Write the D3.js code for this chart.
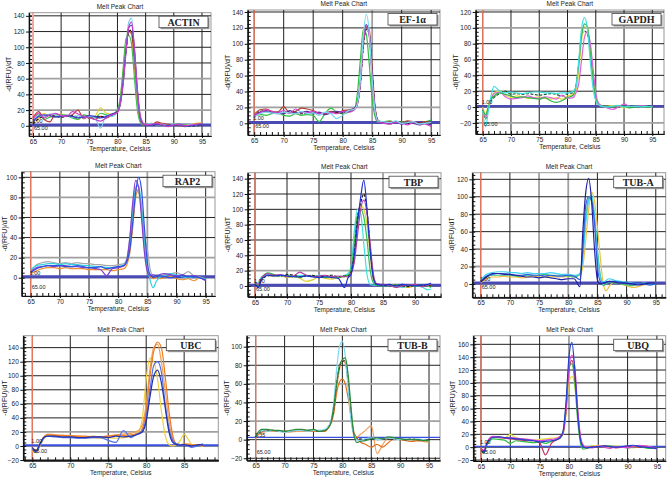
<!DOCTYPE html>
<html>
<head>
<meta charset="utf-8">
<script src="https://cdn.jsdelivr.net/npm/d3@7"></script>
<style>
  body { margin: 0; background: #fff; }
  text { font-family: "Liberation Sans", Arial, sans-serif; fill: #222; }
  .box-label { font-family: "Liberation Serif", "DejaVu Serif", serif; font-weight: bold; }
</style>
</head>
<body>
<div id="chart"></div>
<script>
(function () {
  "use strict";

  // ---- tick labels ----
  var ticks65to95 = [65, 70, 75, 80, 85, 90, 95];
  var ticks65to90 = [65, 70, 75, 80, 85, 90];
  var ticks65to85 = [65, 70, 75, 80, 85];
  var ticks0to140 = [0, 20, 40, 60, 80, 100, 120, 140];
  var ticks0to120 = [0, 20, 40, 60, 80, 100, 120];
  var ticks0to100 = [0, 20, 40, 60, 80, 100];
  var ticksM20to120 = [-20, 0, 20, 40, 60, 80, 100, 120];
  var ticksM20to140 = [-20, 0, 20, 40, 60, 80, 100, 120, 140];
  var ticksM20to100 = [-20, 0, 20, 40, 60, 80, 100];
  var ticksM20to160 = [-20, 0, 20, 40, 60, 80, 100, 120, 140, 160];

  // ---- ACTIN ----
  var actinTemps = [65,66,67,68,69,70,71,72,73,74,75,76,77,78,79,80, 80.5,81,81.5,82,82.5,83,83.5,84,84.5, 85,86,87,88,89,90,91,92,93,94,95];
  var actinYellow = [3,10,16,12,13,15,14,12,8,14,10,12,23,16,15,20, 34,70,108,122,115,78,32,8,2, 3,2,4,2,1,2,1,1,2,3,4];
  var actinGreen = [4,15,8,11,12,14,13,10,8,14,12,10,16,14,13,21, 36,72,110,115,104,62,22,5,1, 2,3,2,1,1,2,2,1,0,1,3];
  var actinRed = [10,18,8,5,15,13,12,14,20,9,12,8,12,10,14,19, 30,60,96,120,118,85,40,10,2, 3,1,5,3,2,1,0,0,1,2,1];
  var actinBlack = [2,9,12,14,12,11,12,13,11,12,10,11,12,11,13,18, 28,56,94,120,122,92,44,12,3, 1,2,1,1,0,1,1,-1,0,0,1];
  var actinCyan = [6,13,12,15,14,12,14,11,13,10,12,10,-3,13,12,18, 30,58,98,132,137,95,42,12,3, 2,3,1,2,0,2,1,0,2,1,2];
  var actinBlue = [5,12,14,13,11,12,13,12,10,11,13,12,10,12,15,18, 29,55,95,125,128,98,48,13,3, 1,1,2,1,0,1,1,0,0,1,2];
  var actinMagenta = [8,16,10,14,16,13,12,18,15,12,10,8,6,10,14,17, 28,52,92,126,132,100,50,15,4, 1,2,3,1,-1,1,2,0,1,2,3];

  // ---- EF-1a ----
  var efTemps = [65,66,67,68,69,70,71,72,73,74,75,76,77,78,79,80,81,82, 82.5,83,83.5,84,84.5,85,85.5,86, 87,88,89,90,91,92,93,94,95];
  var efGreen = [9,11,10,12,13,10,9,12,10,11,10,2,12,19,14,12,14,18, 38,80,118,112,75,30,8,1, 2,3,1,2,1,1,0,2,4];
  var efRed = [11,17,18,15,14,21,13,15,19,18,16,13,12,15,13,16,17,19, 26,52,102,120,118,70,20,4, 1,2,2,1,3,2,1,2,1];
  var efBlack = [7,15,16,14,12,13,15,14,12,13,14,12,13,14,14,13,15,18, 24,48,96,118,112,62,18,3, 1,-1,2,1,0,1,1,-1,0];
  var efPurple = [9,14,15,13,14,12,16,13,14,15,12,14,11,13,15,14,16,19, 26,54,104,124,112,60,17,2, 1,0,2,-1,1,0,-2,0,-2];
  var efMagenta = [10,13,17,15,13,16,12,18,14,13,15,12,13,14,12,15,14,17, 24,50,100,122,110,58,16,2, 0,-1,1,0,-2,1,0,-1,-4];
  var efCyan = [8,12,14,13,12,14,13,12,15,12,13,10,14,12,6,10,16,18, 25,55,110,137,115,55,15,3, 2,1,3,0,1,2,-1,0,1];

  // ---- GAPDH ----
  var gapdhTemps = [65,65.5,66,66.5,67,68,69,70,71,72,73,74,75,76,77,78,79,80,81, 81.5,82,82.5,83,83.5,84,84.5,85,85.5,86, 87,88,89,90,91,92,93,94,95];
  var gapdhDark = [-4,-15,-1,8,12,17,20,16,17,16,17,16,15,16,17,16,14,17,18, 26,55,92,96,92,75,40,12,3,1, 2,1,0,1,2,0,1,2,0];
  var gapdhYellow = [0,-8,2,12,18,20,15,12,14,13,11,12,13,11,10,12,10,14,16, 20,45,85,102,100,80,45,15,4,1, 1,2,1,-1,0,1,1,0,1];
  var gapdhMagenta = [-2,-12,-3,10,17,19,13,10,11,12,14,12,11,13,12,10,15,11,12, 18,30,60,88,95,82,50,18,5,2, -1,-3,0,4,1,0,2,1,0];
  var gapdhGreen = [-3,-10,0,10,14,18,16,14,12,13,12,11,10,12,8,6,8,12,15, 28,55,90,105,102,70,35,10,3,1, 1,0,2,1,-1,0,1,0,0];
  var gapdhCyan = [-5,-25,-5,15,26,20,18,19,18,17,18,19,19,18,18,17,18,18,20, 25,60,100,113,100,60,25,8,3,1, 0,1,2,0,1,1,0,1,0];

  // ---- RAP2 ----
  var rapTemps = [65,66,67,68,69,70,71,72,73,74,75,76,77,78,79,80,81, 81.5,82,82.5,83,83.5,84,84.5,85,85.5,86,86.5, 87,88,89,90,91,92,93,94,95];
  var rapGray = [7,13,15,16,15,14,15,14,15,14,14,13,13,12,12,13,14, 20,40,72,88,85,70,40,28,8,2,3, 2,3,4,5,3,6,2,1,-1];
  var rapOrange = [4,7,9,10,10,9,10,9,9,9,8,8,8,8,7,8,9, 13,25,50,80,88,65,30,8,1,-1,0, -1,0,1,-1,-2,-1,-3,0,-2];
  var rapCyan = [8,12,13,14,14,13,14,13,13,12,12,11,11,10,10,11,13, 18,35,65,90,92,70,35,10,-3,-10,-4, 0,2,4,3,1,0,1,0,-1];
  var rapPurple = [6,10,11,12,11,12,12,11,11,10,10,9,8,2,9,10,12, 18,40,75,97,90,60,25,6,2,3,2, 3,4,3,2,3,1,2,0,-3];
  var rapBlue = [5,9,11,12,12,12,11,11,12,11,10,10,11,9,10,11,12, 16,28,55,85,100,88,50,15,3,1,2, 2,1,0,1,2,1,1,0,-2];

  // ---- TBP ----
  var tbpTemps = [65,65.5,66,67,68,69,70,71,72,73,74,75,76,77,78,79, 79.5,80,80.5,81,81.5,82,82.5,83,83.5,84, 85,86,87,88,89,90,91,92,92.5];
  var tbpYellow = [4,1,11,14,12,14,11,12,10,6,8,12,10,9,11,12, 13,18,45,85,105,100,80,40,8,2, 1,2,1,-1,-2,1,0,1,0];
  var tbpCyan = [6,3,12,15,13,14,12,13,14,13,12,14,13,12,11,14, 16,25,70,100,95,55,15,2,1,1, 1,0,0,-2,1,0,-1,-5,-4];
  var tbpGreen = [4,0,9,17,15,13,14,12,11,14,13,12,11,12,11,13, 14,22,55,92,100,90,60,20,4,1, 0,1,1,2,1,0,1,0,-2];
  var tbpBlack = [2,0,8,13,14,13,15,14,12,13,14,12,13,14,12,13, 13,18,42,88,108,120,98,50,12,2, 1,0,1,0,-1,1,0,1,0];
  var tbpPurple = [5,2,10,16,14,15,12,13,18,14,12,13,14,12,13,12, 12,16,30,65,100,112,95,55,15,3, 2,1,-2,0,1,2,-1,1,3];
  var tbpBlue = [3,-2,8,14,13,14,13,12,12,13,12,11,12,11,10,-2, 10,15,40,80,115,138,100,45,10,2, 1,2,0,2,1,0,1,2,4];

  // ---- TUB-A ----
  var tubaTemps = [65,66,67,68,69,70,71,72,73,74,75,76,77,78,79,80,81,82, 82.5,83,83.5,84,84.5,85,85.5,86,86.5,87, 88,89,90,91,92,93,94,95];
  var tubaYellow = [1,6,8,8,9,8,8,7,8,9,8,8,9,8,8,9,8,10, 20,50,85,105,95,65,30,0,-8,-3, 2,0,-2,-4,-3,-1,0,1];
  var tubaGreen = [3,8,10,10,10,10,9,9,10,10,10,11,10,10,10,9,8,12, 35,75,98,100,75,40,10,-2,0,2, 1,0,-1,-2,0,1,-1,0];
  var tubaCyan = [5,11,13,14,14,13,13,12,13,12,12,12,13,12,11,11,10,11, 30,70,95,102,80,35,8,2,4,6, 4,3,2,1,0,1,0,0];
  var tubaBlue = [3,9,11,12,12,11,10,10,11,10,10,9,10,9,9,10,9,5, 40,90,100,95,70,20,3,1,2,3, 3,2,1,0,1,0,-1,0];
  var tubaDark = [2,8,12,12,11,11,10,9,8,8,7,8,7,6,5,6,6,-3, 60,105,121,95,40,5,0,1,2,3, 2,1,1,0,-1,0,1,1];

  // ---- UBC ----
  var ubcTemps = [65,65.5,66,66.5,67,68,69,70,71,72,73,74,75,76,77,78, 78.5,79,79.5,80,80.5,81,81.5,82,82.5,83,83.5,84, 84.5,85,85.5,86,87,87.5];
  var ubcYellow = [-8,-10,0,10,15,14,14,13,13,12,12,11,12,11,12,14, 16,20,40,95,125,120,95,50,15,2,0,2, 8,17,10,2,1,-1];
  var ubcOrange2 = [-3,-6,4,13,17,16,15,15,14,13,14,13,14,16,17,18, 20,22,30,60,110,140,145,120,80,35,10,2, 1,2,3,2,1,2];
  var ubcOrange = [-5,-8,2,12,16,15,15,14,14,14,13,13,14,15,15,16, 17,18,25,50,100,135,148,140,100,50,15,3, 2,3,2,1,2,0];
  var ubcBlue = [-4,-9,1,11,14,13,12,12,11,11,12,12,8,5,22,12, 15,18,22,40,80,115,120,105,60,25,8,3, 2,1,0,-2,1,3];
  var ubcDark = [-2,-7,3,12,14,14,13,13,12,12,13,13,12,14,13,14, 15,17,20,35,70,100,108,90,55,20,5,2, 1,2,1,0,2,1];

  // ---- TUB-B ----
  var tubbTemps = [65,66,67,68,69,70,71,72,73,74,75,76,77, 77.5,78,78.5,79,79.5,80,80.5,81,81.5,82,82.5,83, 84,85,86,87,88,89,90,91,92,93,94,95];
  var tubbOrange = [3,9,10,9,9,8,8,9,9,9,9,9,9, 13,18,30,55,75,85,82,60,25,5,3,5, 10,15,-15,-5,2,0,1,1,0,-1,-2,-3];
  var tubbDarkOrange = [2,8,9,10,9,9,9,10,10,9,9,10,9, 12,17,28,50,62,65,60,45,25,8,2,-2, -5,-8,-5,-8,-3,1,0,-1,-2,-1,-1,-1];
  var tubbBlack = [3,9,10,10,9,9,9,10,10,10,10,9,10, 13,19,33,60,78,84,85,62,28,6,1,1, 0,1,0,1,1,0,1,0,1,0,0,0];
  var tubbCyan = [3,10,9,10,9,8,9,10,10,9,10,10,11, 14,20,40,75,100,106,90,55,20,5,0,-1, 1,2,0,1,2,1,0,1,0,1,0,-1];
  var tubbGreen = [4,11,11,10,10,9,10,11,11,10,11,9,10, 12,18,35,60,80,86,88,70,35,5,-3,-2, -1,1,2,1,3,2,1,0,0,0,-1,-1];

  // ---- UBQ ----
  var ubqTemps = [65,65.5,66,66.5,67,68,69,70,71,72,73,74,75,76,77,78, 78.5,79,79.5,80,80.5,81,81.5,82,82.5,83, 84,85,86,87,88,89,90,91,92,93,94,95];
  var ubqYellow = [-4,-7,5,12,16,17,14,20,14,13,12,11,12,13,14,15, 16,20,50,100,110,95,50,12,2,0, 2,3,1,0,2,1,0,-1,1,2,0,-2];
  var ubqGreen = [-6,-9,3,10,13,12,11,6,10,9,8,7,8,6,9,12, 14,24,65,125,130,100,40,5,-3,-2, 0,1,1,2,1,0,-1,0,2,-1,-2,-1];
  var ubqRed = [-2,-5,7,14,16,15,14,13,12,11,10,10,7,-12,6,12, 15,22,55,120,135,110,55,12,2,-1, 1,0,2,1,-1,0,2,1,0,1,0,-2];
  var ubqMagenta = [-3,-6,6,14,17,16,15,15,14,13,12,11,10,11,12,14, 17,22,60,125,143,125,60,15,2,0, -1,2,0,-2,1,0,-1,1,3,2,0,-3];
  var ubqBlue = [-5,-8,5,12,15,16,15,14,13,12,11,10,8,9,10,12, 15,25,70,140,163,120,50,10,0,-1, 0,1,2,1,0,1,2,3,1,0,-1,-2];

  // panel settings: box = [left, top, right, bottom] of the plot area
  var panels = [
    { name: "ACTIN", temps: actinTemps,
      series: [actinYellow, actinGreen, actinRed, actinBlack, actinCyan, actinBlue, actinMagenta],
      colors: ["#e8d030", "#3cc050", "#c03838", "#222222", "#80d0f0", "#3838d0", "#c840c8"],
      dashed: [3], box: [29, 12.7, 211, 136], xDomain: [64.3, 96.6], yDomain: [-13, 144],
      xTicks: ticks65to95, yTicks: ticks0to140, grayX: [], grayY: [20, 60],
      threshold: 1, thrWidth: 3, thrLabel: "1.00", lowDy: 2 },
    { name: "EF-1\u03b1", temps: efTemps,
      series: [efGreen, efRed, efBlack, efPurple, efMagenta, efCyan],
      colors: ["#30c040", "#b04030", "#222222", "#6030a0", "#d040d0", "#80d8f0"],
      dashed: [2], box: [247.7, 10, 440, 135], xDomain: [63.9, 96.5], yDomain: [-14.7, 142.5],
      xTicks: ticks65to95, yTicks: ticks0to140, grayX: [85], grayY: [20],
      threshold: 1, thrWidth: 3, thrLabel: "1.00", lowDy: 3 },
    { name: "GAPDH", temps: gapdhTemps,
      series: [gapdhDark, gapdhYellow, gapdhMagenta, gapdhGreen, gapdhCyan],
      colors: ["#1d5e3a", "#e0e040", "#e060e0", "#30b050", "#40e0e0"],
      dashed: [0], box: [475.7, 10, 664, 134], xDomain: [63.76, 97.07], yDomain: [-34, 122.5],
      xTicks: ticks65to95, yTicks: ticksM20to120, grayX: [], grayY: [100, -20],
      threshold: 1, thrWidth: 2.5, thrLabel: "1.00", lowDy: 17 },
    { name: "RAP2", temps: rapTemps,
      series: [rapGray, rapOrange, rapCyan, rapPurple, rapBlue],
      colors: ["#a8a8a8", "#f09030", "#30d0e0", "#8040d0", "#3050e0"],
      dashed: [], box: [21.7, 171.7, 215, 296], xDomain: [63.46, 96.6], yDomain: [-18.2, 105.6],
      xTicks: ticks65to95, yTicks: ticks0to100, grayX: [85], grayY: [20, 80],
      threshold: 1, thrWidth: 3, thrLabel: "1.00", lowDy: 9 },
    { name: "TBP", temps: tbpTemps,
      series: [tbpYellow, tbpCyan, tbpGreen, tbpBlack, tbpPurple, tbpBlue],
      colors: ["#e0d030", "#40e0e0", "#30c050", "#222222", "#b040a0", "#2030d0"],
      dashed: [3], box: [247.7, 172.7, 441, 296.7], xDomain: [63.86, 94.06], yDomain: [-14, 147.8],
      xTicks: ticks65to90, yTicks: ticks0to140, grayX: [85], grayY: [20],
      threshold: 1, thrWidth: 3, thrLabel: "1.00", lowDy: 3 },
    { name: "TUB-A", temps: tubaTemps,
      series: [tubaYellow, tubaGreen, tubaCyan, tubaBlue, tubaDark],
      colors: ["#f0c040", "#40c080", "#40d0f0", "#3060e0", "#2020a0"],
      dashed: [], box: [472.3, 172.7, 665.7, 297.3], xDomain: [63.56, 96.7], yDomain: [-15.3, 127.6],
      xTicks: ticks65to95, yTicks: ticks0to120, grayX: [75, 80], grayY: [20],
      threshold: 1, thrWidth: 3, thrLabel: "1.00", lowDy: 3 },
    { name: "UBC", temps: ubcTemps,
      series: [ubcYellow, ubcOrange2, ubcOrange, ubcBlue, ubcDark],
      colors: ["#f0d040", "#f0a050", "#f07a20", "#5070f0", "#2030b0"],
      dashed: [], box: [23.3, 335.7, 218.3, 460.3], xDomain: [63.81, 89.5], yDomain: [-20.4, 157],
      xTicks: ticks65to85, yTicks: ticksM20to140, grayX: [], grayY: [20],
      threshold: 1, thrWidth: 2, thrLabel: "1.00", lowDy: 5 },
    { name: "TUB-B", temps: tubbTemps,
      series: [tubbOrange, tubbDarkOrange, tubbBlack, tubbCyan, tubbGreen],
      colors: ["#f0a060", "#e07020", "#333333", "#80d8f0", "#2e8b3e"],
      dashed: [2], box: [246.7, 335.7, 440, 460.3], xDomain: [63.44, 96.9], yDomain: [-22.2, 111.8],
      xTicks: ticks65to95, yTicks: ticksM20to100, grayX: [], grayY: [20, 60],
      threshold: 2.35, thrWidth: 1.3, thrLabel: "2.35", lowDy: 12 },
    { name: "UBQ", temps: ubqTemps,
      series: [ubqYellow, ubqGreen, ubqRed, ubqMagenta, ubqBlue],
      colors: ["#e0e040", "#30c040", "#c03060", "#e040e0", "#2040d0"],
      dashed: [], box: [473.3, 335.7, 665.7, 461], xDomain: [63.69, 96.5], yDomain: [-21.5, 173.4],
      xTicks: ticks65to95, yTicks: ticksM20to160, grayX: [80], grayY: [],
      threshold: 1, thrWidth: 1.5, thrLabel: "1.00", lowDy: 5 }
  ];

  var svg = d3.select("#chart")
    .append("svg")
    .attr("width", 669)
    .attr("height", 479);

  svg.append("rect").attr("width", 669).attr("height", 479).attr("fill", "#fff");

  panels.forEach(function (p, k) {
    var left = p.box[0], top = p.box[1], right = p.box[2], bottom = p.box[3],
      x = d3.scaleLinear().domain(p.xDomain).range([left, right]),
      y = d3.scaleLinear().domain(p.yDomain).range([bottom, top]),
      g = svg.append("g").attr("class", "panel"),
      clipId = "clip" + k,
      line;

    g.append("clipPath").attr("id", clipId)
      .append("rect")
      .attr("x", left).attr("y", top)
      .attr("width", right - left).attr("height", bottom - top);

    // plot frame
    g.append("rect")
      .attr("x", left).attr("y", top)
      .attr("width", right - left).attr("height", bottom - top)
      .attr("fill", "#fff")
      .attr("stroke", "#999")
      .attr("stroke-width", 1);

    // grid
    g.selectAll(".gx")
      .data(p.xTicks)
      .enter()
      .append("line")
      .attr("x1", function (d) { return x(d); })
      .attr("x2", function (d) { return x(d); })
      .attr("y1", top).attr("y2", bottom)
      .attr("stroke", function (d) { return p.grayX.indexOf(d) >= 0 ? "#a0a0a0" : "#222"; })
      .attr("stroke-width", function (d) { return p.grayX.indexOf(d) >= 0 ? 1.8 : 1; });

    g.selectAll(".gy")
      .data(p.yTicks)
      .enter()
      .append("line")
      .attr("x1", left).attr("x2", right)
      .attr("y1", function (d) { return y(d); })
      .attr("y2", function (d) { return y(d); })
      .attr("stroke", function (d) { return p.grayY.indexOf(d) >= 0 ? "#a0a0a0" : "#222"; })
      .attr("stroke-width", function (d) { return p.grayY.indexOf(d) >= 0 ? 1.8 : 1; });

    // start temperature marker
    g.append("line")
      .attr("x1", x(65)).attr("x2", x(65))
      .attr("y1", top).attr("y2", bottom)
      .attr("stroke", k === 0 ? "#f2aaa2" : "#f07a60")
      .attr("stroke-width", k === 0 ? 2 : 1.2);

    // threshold line
    g.append("line")
      .attr("x1", left).attr("x2", right)
      .attr("y1", y(p.threshold)).attr("y2", y(p.threshold))
      .attr("stroke", p.thrWidth > 2 ? "#4a4ab4" : "#3a50e0")
      .attr("stroke-width", p.thrWidth);

    // melt curves
    line = d3.line()
      .x(function (d) { return x(d[0]); })
      .y(function (d) { return y(d[1]); })
      .curve(d3.curveMonotoneX);

    g.append("g")
      .attr("clip-path", "url(#" + clipId + ")")
      .selectAll("path")
      .data(p.series)
      .enter()
      .append("path")
      .attr("d", function (s) { return line(d3.zip(p.temps, s)); })
      .attr("fill", "none")
      .attr("stroke", function (s, i) { return p.colors[i]; })
      .attr("stroke-width", 1.2)
      .attr("stroke-dasharray", function (s, i) { return p.dashed.indexOf(i) >= 0 ? "3,1.5" : null; });

    // threshold texts
    g.append("text")
      .attr("x", x(65) - 1).attr("y", y(0) - 3)
      .style("font-size", "5.5px")
      .text(p.thrLabel);
    g.append("text")
      .attr("x", x(65) + 1).attr("y", y(0) + p.lowDy + 2)
      .style("font-size", "5.5px")
      .text("65.00");

    // axes
    var yMinor = d3.range(Math.ceil(p.yDomain[0] / 5) * 5, p.yDomain[1], 5),
      xMinor = d3.range(Math.ceil(p.xDomain[0]), p.xDomain[1], 1);

    g.append("g")
      .attr("transform", "translate(" + left + ",0)")
      .call(d3.axisLeft(y).tickValues(yMinor).tickSize(-3).tickSizeOuter(0).tickFormat(""));
    g.append("g")
      .attr("transform", "translate(" + left + ",0)")
      .call(d3.axisLeft(y).tickValues(p.yTicks).tickSize(3).tickSizeOuter(0).tickPadding(1.5))
      .selectAll("text").style("font-size", "6.5px");

    g.append("g")
      .attr("transform", "translate(0," + bottom + ")")
      .call(d3.axisBottom(x).tickValues(xMinor).tickSize(-3).tickSizeOuter(0).tickFormat(""));
    g.append("g")
      .attr("transform", "translate(0," + bottom + ")")
      .call(d3.axisBottom(x).tickValues(p.xTicks).tickSize(2).tickSizeOuter(0).tickPadding(1.5))
      .selectAll("text").style("font-size", "6.5px");

    g.selectAll(".domain").attr("stroke", "#111").attr("stroke-width", 1.2);
    g.selectAll(".tick line").attr("stroke", "#111");

    // titles
    g.append("text")
      .attr("x", (left + right) / 2).attr("y", top - 4)
      .attr("text-anchor", "middle")
      .style("font-size", "6.5px")
      .text("Melt Peak Chart");

    g.append("text")
      .attr("x", (left + right) / 2).attr("y", bottom + 15)
      .attr("text-anchor", "middle")
      .style("font-size", "6.5px")
      .text("Temperature, Celsius");

    g.append("text")
      .attr("transform", "translate(" + Math.max(left - 18, 7) + "," + ((top + bottom) / 2) + ") rotate(-90)")
      .attr("text-anchor", "middle")
      .style("font-size", "7px")
      .text("-d(RFU)/dT");

    // gene box
    g.append("rect")
      .attr("x", right - 50.5).attr("y", top + 5)
      .attr("width", 49).attr("height", 11.5)
      .attr("fill", "#999");
    g.append("rect")
      .attr("x", right - 52).attr("y", top + 3.5)
      .attr("width", 49).attr("height", 11.5)
      .attr("fill", "#fff")
      .attr("stroke", "#444")
      .attr("stroke-width", 0.8);
    g.append("text")
      .attr("class", "box-label")
      .attr("x", right - 27.5).attr("y", top + 12.8)
      .attr("text-anchor", "middle")
      .style("font-size", "10px")
      .text(p.name);
  });
}());
</script>
</body>
</html>
